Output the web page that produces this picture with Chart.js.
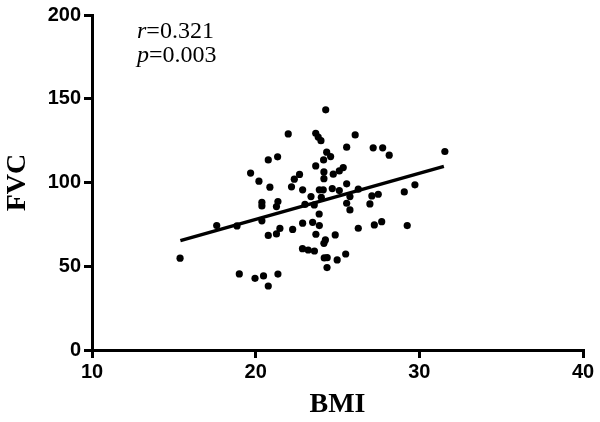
<!DOCTYPE html>
<html>
<head>
<meta charset="utf-8">
<script src="https://cdn.jsdelivr.net/npm/chart.js@4.4.0/dist/chart.umd.min.js"></script>
<style>
  html, body { margin: 0; padding: 0; background: #fff; }
  #wrap { width: 600px; height: 422px; }
</style>
</head>
<body>
<div id="wrap"><canvas id="chart"></canvas></div>
<script>
// BMI / FVC values
const bmi = [
  15.38, 17.62, 18.86, 19.00, 19.69, 19.96, 20.20, 20.38, 20.38, 20.38,
  20.48, 20.77, 20.77, 20.77, 20.87, 21.27, 21.34, 21.36, 21.27, 21.36,
  21.48, 21.99, 22.19, 22.26, 22.36, 22.68, 22.87, 22.87, 22.86, 23.01,
  23.21, 23.38, 23.48, 23.58, 23.59, 23.67, 23.67, 23.82, 23.99, 23.68,
  23.89, 23.88, 23.89, 24.01, 24.13, 24.15, 24.17, 24.17, 24.28, 24.34,
  24.58, 24.26, 24.17, 24.19, 24.37, 24.36, 24.68, 24.74, 24.86, 24.98,
  25.11, 25.11, 25.35, 25.50, 25.56, 25.56, 25.56, 25.76, 25.76, 26.08,
  26.27, 26.27, 26.98, 27.10, 27.18, 27.25, 27.49, 27.70, 27.76, 28.16,
  29.08, 29.26, 29.73, 31.56
];
const fvc = [
  54.8, 74.3, 74.1, 45.4, 105.6, 42.8, 100.8, 88.1, 86.0, 77.1,
  44.2, 113.5, 68.4, 38.2, 97.2, 85.6, 115.3, 88.6, 69.3, 45.3,
  72.6, 129.0, 97.4, 72.0, 102.0, 104.8, 95.6, 75.7, 60.5, 86.9,
  59.7, 91.6, 76.2, 86.6, 59.1, 109.9, 129.4, 127.1, 125.0, 69.1,
  95.6, 81.2, 74.3, 91.2, 95.6, 113.5, 106.3, 102.3, 143.4, 118.1,
  115.5, 65.7, 63.7, 55.0, 55.1, 49.2, 96.4, 105.0, 68.7, 53.8,
  106.9, 95.2, 108.9, 57.3, 121.1, 99.2, 87.6, 91.6, 83.6, 128.4,
  96.0, 72.7, 87.2, 92.0, 120.7, 74.7, 93.0, 76.6, 120.7, 116.3,
  94.4, 74.3, 98.6, 118.5
];
// regression line ends
const fitX = [15.4, 31.5];
const fitY = [65.3, 109.6];
const xTicks = [10, 20, 30, 40];
const yTicks = [0, 50, 100, 150, 200];
const statLines = [['r', '=0.321'], ['p', '=0.003']];

const points = bmi.map((b, i) => ({ x: b, y: fvc[i] }));
const fitLine = fitX.map((x, i) => ({ x: x, y: fitY[i] }));

const statsPlugin = {
  id: 'stats',
  afterDraw(chart) {
    const ctx = chart.ctx;
    const xs = chart.scales.x;
    const ys = chart.scales.y;
    ctx.save();
    ctx.fillStyle = '#000';
    ctx.textBaseline = 'alphabetic';
    let x0 = xs.getPixelForValue(12.75);
    statLines.forEach((ln, i) => {
      let y0 = ys.getPixelForValue(186.5 - i * 14.5);
      ctx.font = 'italic 24px "Liberation Serif", "Times New Roman", serif';
      ctx.fillText(ln[0], x0, y0);
      let w = ctx.measureText(ln[0]).width;
      ctx.font = '24px "Liberation Serif", "Times New Roman", serif';
      ctx.fillText(ln[1], x0 + w, y0);
    });
    ctx.restore();
  }
};

const tickFont = { family: '"Liberation Sans", Arial, sans-serif', size: 20, weight: 'bold' };
const titleFont = { family: '"Liberation Serif", "Times New Roman", serif', size: 28, weight: 'bold' };

new Chart(document.getElementById('chart'), {
  type: 'scatter',
  data: {
    datasets: [
      {
        label: 'FVC',
        data: points,
        backgroundColor: '#000',
        borderColor: '#000',
        pointRadius: 3.6,
        pointBorderWidth: 0,
      },
      {
        label: 'fit',
        type: 'line',
        data: fitLine,
        borderColor: '#000',
        borderWidth: 3.5,
        pointRadius: 0,
        fill: false,
      },
    ],
  },
  options: {
    responsive: true,
    maintainAspectRatio: false,
    animation: false,
    layout: { padding: { left: 0, right: 17, top: 15, bottom: 0 } },
    plugins: { legend: { display: false }, tooltip: { enabled: false } },
    scales: {
      x: {
        type: 'linear',
        min: 10,
        max: 40,
        afterBuildTicks: (s) => { s.ticks = xTicks.map(v => ({ value: v })); },
        afterFit: (s) => { s.height = 72; },
        ticks: { color: '#000', font: tickFont, padding: 2 },
        grid: { drawOnChartArea: false, drawTicks: true, tickLength: 8, color: '#000', lineWidth: 3 },
        border: { display: true, color: '#000', width: 3 },
        title: { display: true, text: 'BMI', color: '#000', font: titleFont, padding: 0 },
      },
      y: {
        type: 'linear',
        min: 0,
        max: 200,
        afterBuildTicks: (s) => { s.ticks = yTicks.map(v => ({ value: v })); },
        afterFit: (s) => { s.width = 92; },
        ticks: { color: '#000', font: tickFont, padding: 3 },
        grid: { drawOnChartArea: false, drawTicks: true, tickLength: 8, color: '#000', lineWidth: 3 },
        border: { display: true, color: '#000', width: 3 },
        title: { display: true, text: 'FVC', color: '#000', font: titleFont, padding: 1 },
      },
    },
  },
  plugins: [statsPlugin],
});
</script>
</body>
</html>
